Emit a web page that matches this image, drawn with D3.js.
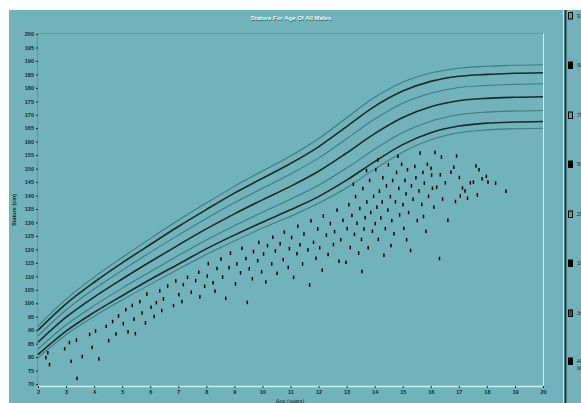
<!DOCTYPE html>
<html>
<head>
<meta charset="utf-8">
<script src="https://cdn.jsdelivr.net/npm/d3@7"></script>
<style>
  body { margin: 0; background: #fff; }
  svg { display: block; font-family: "Liberation Sans", Arial, sans-serif; }
</style>
</head>
<body>
<script>
// Stature-for-age percentile curves with measured males as a scatter

const svgWidth = 581;
const svgHeight = 403;

const ages = [2, 3, 4, 5, 6, 7, 8, 9, 10, 11, 12, 13, 14, 15, 16, 17, 18, 19, 20];
const p97 = [91.5, 101.5, 109.7, 117.0, 124.0, 130.8, 137.2, 143.4, 149.1, 154.7, 161.1, 168.9, 176.5, 182.1, 185.5, 187.3, 188.0, 188.4, 188.6];
const p90 = [90.0, 99.8, 107.8, 115.0, 121.8, 128.5, 134.8, 140.9, 146.4, 151.9, 158.1, 165.6, 173.1, 178.8, 182.4, 184.3, 185.0, 185.4, 185.6];
const p75 = [87.9, 97.5, 105.3, 112.2, 118.9, 125.3, 131.5, 137.3, 142.7, 148.0, 153.9, 161.1, 168.4, 174.3, 178.0, 180.1, 180.9, 181.3, 181.5];
const p50 = [85.5, 94.8, 102.3, 109.0, 115.4, 121.6, 127.6, 133.2, 138.4, 143.4, 149.0, 155.8, 163.0, 169.0, 173.0, 175.2, 176.1, 176.5, 176.7];
const p25 = [83.0, 91.9, 99.1, 105.6, 111.7, 117.7, 123.5, 128.8, 133.8, 138.6, 143.8, 150.2, 157.2, 163.4, 167.6, 170.0, 171.0, 171.4, 171.6];
const p10 = [80.9, 89.6, 96.6, 102.8, 108.8, 114.5, 120.2, 125.3, 130.1, 134.7, 139.6, 145.7, 152.6, 158.9, 163.3, 165.8, 166.9, 167.3, 167.5];
const p3  = [79.7, 88.3, 95.1, 101.2, 107.0, 112.6, 118.1, 123.1, 127.9, 132.3, 137.1, 142.9, 149.8, 156.1, 160.7, 163.3, 164.4, 164.8, 165.0];

const percentileNames = ["97th", "90th", "75th", "50th", "25th", "10th", "3rd"];
const percentileSeries = [p97, p90, p75, p50, p25, p10, p3];

// measured males: [age, stature]
const males = [
  [2.28, 79.8], [2.35, 81.6], [2.41, 77.2], [2.95, 83.1], [3.12, 85.4], [3.18, 78.4], [3.37, 86.3], [3.39, 72.1],
  [3.58, 80.2], [3.84, 88.4], [3.93, 83.6], [4.05, 89.7], [4.17, 79.3], [4.43, 91.4], [4.52, 86.1], [4.66, 93.2],
  [4.78, 88.6], [4.87, 95.3], [5.04, 92.4], [5.13, 97.6], [5.21, 89.4], [5.36, 99.2], [5.42, 94.1], [5.47, 88.7],
  [5.63, 100.6], [5.71, 96.4], [5.83, 92.7], [5.88, 103.4], [6.03, 98.5], [6.14, 95.1], [6.22, 100.2],
  [6.34, 104.6], [6.41, 97.3], [6.47, 101.6], [6.62, 106.4], [6.83, 99.1], [6.91, 108.3], [7.02, 103.2], [7.13, 100.6],
  [7.18, 106.9], [7.33, 109.6], [7.46, 104.1], [7.62, 108.4], [7.73, 111.5], [7.77, 102.4], [7.94, 106.3], [8.03, 110.1],
  [8.07, 114.7], [8.24, 107.6], [8.31, 104.5], [8.38, 112.9], [8.52, 116.4], [8.58, 109.7], [8.69, 101.8], [8.81, 113.2],
  [8.86, 118.6], [9.04, 107.2], [9.09, 114.6], [9.22, 111.3], [9.27, 120.4], [9.41, 116.6], [9.46, 100.3], [9.53, 112.8],
  [9.64, 109.1], [9.68, 119.2], [9.83, 115.8], [9.87, 122.6], [9.97, 111.7], [10.04, 118.3], [10.12, 107.9], [10.18, 121.4],
  [10.33, 114.6], [10.37, 124.5], [10.46, 119.4], [10.52, 111.1], [10.63, 122.1], [10.74, 116.2], [10.78, 126.4], [10.92, 113.3],
  [10.96, 120.3], [11.04, 124.4], [11.11, 109.6], [11.23, 118.4], [11.26, 128.6], [11.34, 121.7], [11.43, 114.6], [11.48, 125.7],
  [11.62, 119.8], [11.68, 106.8], [11.73, 130.6], [11.82, 122.6], [11.91, 116.7], [11.97, 127.6], [12.04, 120.6], [12.13, 112.3],
  [12.17, 132.4], [12.28, 125.3], [12.34, 118.1], [12.42, 129.6], [12.53, 121.8], [12.57, 126.6], [12.66, 134.6], [12.73, 115.6],
  [12.79, 123.6], [12.87, 130.8], [12.98, 115.2], [13.02, 127.7], [13.08, 136.6], [13.13, 120.7], [13.19, 132.6], [13.28, 125.6],
  [13.32, 139.6], [13.37, 129.7], [13.43, 118.6], [13.47, 135.2], [13.53, 123.7], [13.58, 142.6], [13.62, 127.6], [13.66, 131.8],
  [13.72, 137.6], [13.77, 120.6], [13.82, 145.6], [13.86, 133.7], [13.92, 126.7], [13.96, 139.7], [14.02, 129.6], [14.04, 149.6],
  [14.08, 135.7], [14.13, 123.7], [14.17, 141.6], [14.22, 131.7], [14.27, 137.6], [14.29, 146.6], [14.33, 117.8], [14.38, 127.7],
  [14.42, 143.6], [14.47, 134.6], [14.49, 151.4], [14.56, 139.6], [14.61, 130.7], [14.64, 145.6], [14.69, 125.8], [14.74, 137.7],
  [14.78, 148.6], [14.86, 142.7], [14.89, 132.8], [14.96, 151.6], [15.01, 136.6], [15.04, 127.8], [15.08, 145.6], [15.12, 140.6],
  [15.17, 149.6], [15.21, 133.7], [15.28, 119.6], [15.31, 143.6], [15.37, 138.6], [15.43, 150.8], [15.47, 146.6], [15.52, 130.7],
  [15.62, 155.8], [15.58, 141.7], [15.68, 136.7], [15.72, 148.6], [15.77, 144.6], [15.83, 126.7], [15.88, 151.6], [15.92, 139.7],
  [16.01, 150.1], [16.03, 147.6], [16.06, 142.7], [16.11, 135.7], [16.15, 156.0], [16.21, 143.1], [16.38, 154.3], [16.31, 116.6],
  [16.34, 147.7], [16.42, 138.7], [16.52, 144.7], [16.61, 130.8], [16.72, 148.7], [16.82, 150.5], [16.92, 154.7], [16.88, 137.8],
  [17.02, 146.7], [17.05, 139.8], [17.13, 142.8], [17.22, 141.7], [17.31, 139.0], [17.41, 144.7], [17.52, 145.0], [17.61, 151.0],
  [17.66, 140.2], [17.72, 149.6], [17.83, 146.2], [17.98, 147.1], [18.04, 145.0], [18.31, 144.6], [18.68, 141.6],
  [13.24, 144.2], [13.71, 149.3], [14.11, 153.2], [14.58, 121.4], [15.14, 123.6], [15.74, 132.2], [14.83, 154.6], [13.55, 111.8]
];

const xTicks = d3.range(2, 21);
const yTicks = d3.range(70, 201, 5);

const x = d3.scaleLinear().domain([2, 20]).range([38, 543]);
const y = d3.scaleLinear().domain([70, 200]).range([384, 34]);

const svg = d3.select("body")
  .append("svg")
  .attr("width", svgWidth)
  .attr("height", svgHeight);

const teal = "#72b3bb";
const ink = "#16292b";

// chart panel
svg.append("rect").attr("x", 9).attr("y", 10).attr("width", 554).attr("height", 393).attr("fill", teal);
// legend panel
svg.append("rect").attr("x", 563).attr("y", 10).attr("width", 18).attr("height", 393).attr("fill", teal);
svg.append("line").attr("x1", 563.5).attr("x2", 563.5).attr("y1", 10).attr("y2", 403)
  .attr("stroke", "#b6eef4").attr("stroke-width", 1);
svg.append("line").attr("x1", 565.5).attr("x2", 565.5).attr("y1", 10).attr("y2", 403)
  .attr("stroke", "#1e3d42").attr("stroke-width", 2);

// plot frame (sunken look)
svg.append("line").attr("x1", 38).attr("x2", 543).attr("y1", 33.5).attr("y2", 33.5).attr("stroke", "#5b9aa2");
svg.append("line").attr("x1", 37.5).attr("x2", 37.5).attr("y1", 33.5).attr("y2", 386).attr("stroke", "#5b9aa2");
svg.append("line").attr("x1", 543.5).attr("x2", 543.5).attr("y1", 33.5).attr("y2", 387).attr("stroke", "#bff4fa");
svg.append("line").attr("x1", 38).attr("x2", 544).attr("y1", 386.5).attr("y2", 386.5)
  .attr("stroke", "#bff4fa").attr("stroke-width", 1.5);

// title (light text with a dark edge)
svg.append("text")
  .attr("x", 291.5).attr("y", 20.5)
  .attr("text-anchor", "middle")
  .attr("font-size", 6)
  .attr("font-weight", "bold")
  .attr("fill", "#2f5a5e")
  .text("Stature For Age Of All Males");
svg.append("text")
  .attr("x", 291).attr("y", 20)
  .attr("text-anchor", "middle")
  .attr("font-size", 6)
  .attr("font-weight", "bold")
  .attr("fill", "#f4ffff")
  .text("Stature For Age Of All Males");

// y axis
const yAxis = svg.append("g")
  .attr("transform", "translate(38,0)")
  .call(d3.axisLeft(y).tickValues(yTicks).tickSize(2).tickPadding(2));
yAxis.select(".domain").remove();
yAxis.selectAll(".tick line").attr("stroke", ink);
yAxis.selectAll(".tick text").attr("font-size", 5.5).attr("font-weight", "bold").attr("fill", ink)
  .attr("font-family", "'Liberation Sans', Arial, sans-serif");

// x axis
const xAxis = svg.append("g")
  .attr("transform", "translate(0,386)")
  .call(d3.axisBottom(x).tickValues(xTicks).tickSize(2).tickPadding(2));
xAxis.select(".domain").remove();
xAxis.selectAll(".tick line").attr("stroke", ink);
xAxis.selectAll(".tick text").attr("font-size", 5.5).attr("font-weight", "bold").attr("fill", ink)
  .attr("font-family", "'Liberation Sans', Arial, sans-serif");

// axis titles
svg.append("text")
  .attr("transform", "translate(16,210) rotate(-90)")
  .attr("text-anchor", "middle")
  .attr("font-size", 5.5)
  .attr("font-weight", "bold")
  .attr("fill", ink)
  .text("Stature (cm)");

svg.append("text")
  .attr("x", 290).attr("y", 403)
  .attr("text-anchor", "middle")
  .attr("font-size", 5.5)
  .attr("fill", ink)
  .text("Age (years)");

// percentile curves
const line = d3.line()
  .x((d, i) => x(ages[i]))
  .y(d => y(d))
  .curve(d3.curveMonotoneX);

const thick = [false, true, false, true, false, true, false];

svg.append("g")
  .selectAll("path")
  .data(percentileSeries)
  .enter()
  .append("path")
  .attr("d", d => line(d))
  .attr("fill", "none")
  .attr("stroke", (d, i) => thick[i] ? "#122c30" : "#3f7b82")
  .attr("stroke-width", (d, i) => thick[i] ? 1.6 : 1.1);

// scatter of measured males
svg.append("g")
  .selectAll("rect")
  .data(males)
  .enter()
  .append("rect")
  .attr("x", d => x(d[0]) - 0.75)
  .attr("y", d => y(d[1]) - 1.75)
  .attr("width", 1.5)
  .attr("height", 3.5)
  .attr("fill", "#000");

// legend (cut by the window edge, as in the original)
const legendNames = percentileNames.concat(["All Males"]);
const legendY = [15.5, 65, 115, 164, 214, 263, 313, 361];

const legend = svg.append("g")
  .selectAll("g")
  .data(legendNames)
  .enter()
  .append("g")
  .attr("transform", (d, i) => `translate(568,${legendY[i]})`);

legend.append("rect")
  .attr("x", 0.5).attr("y", -3)
  .attr("width", 4).attr("height", 6.5)
  .attr("fill", (d, i) => i === 7 || thick[i] ? "#000" : (i === 6 ? "#35585c" : "#5f9ca3"))
  .attr("stroke", "#000").attr("stroke-width", 1);

legend.append("text")
  .attr("x", 9).attr("y", 2)
  .attr("font-size", 5)
  .attr("fill", ink)
  .text(d => d === "All Males" ? "All" : d);

legend.filter(d => d === "All Males").append("text")
  .attr("x", 9).attr("y", 9)
  .attr("font-size", 5)
  .attr("fill", ink)
  .text("Males");
</script>
</body>
</html>
